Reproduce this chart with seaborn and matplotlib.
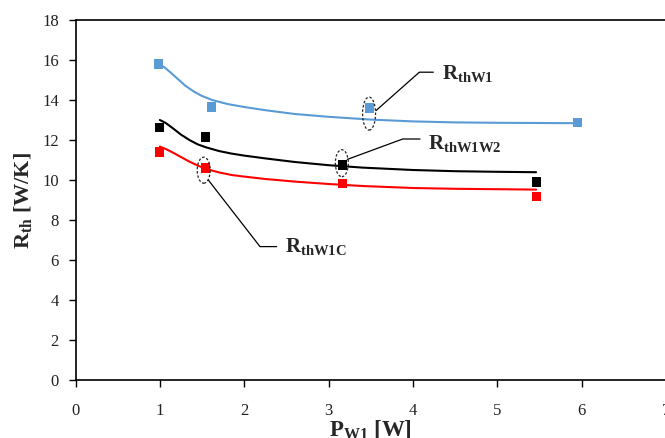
import numpy as np
import pandas as pd
import seaborn as sns
import matplotlib.pyplot as plt
from matplotlib.patches import Ellipse

# ---- data ----
blue_px = [0.98, 1.61, 3.48, 5.95]
blue_py = [15.8, 13.65, 13.6, 12.87]
black_px = [1.0, 1.54, 3.16, 5.46]
black_py = [12.63, 12.15, 10.75, 9.9]
red_px = [1.0, 1.54, 3.16, 5.46]
red_py = [11.4, 10.6, 9.83, 9.18]

blue_cx = [0.98, 1.05, 1.12, 1.2, 1.3, 1.4, 1.5, 1.62, 1.8, 2.0, 2.25, 2.6, 3.0, 3.5, 4.0, 4.5, 5.0, 5.5, 5.95]
blue_cy = [15.8, 15.65, 15.4, 15.1, 14.72, 14.43, 14.2, 14.0, 13.8, 13.65, 13.49, 13.3, 13.16, 13.02, 12.93, 12.88, 12.86, 12.85, 12.84]
black_cx = [1.0, 1.07, 1.15, 1.25, 1.35, 1.45, 1.55, 1.7, 1.85, 2.0, 2.25, 2.6, 3.0, 3.4, 4.0, 4.5, 5.0, 5.46]
black_cy = [13.0, 12.85, 12.6, 12.27, 12.0, 11.78, 11.63, 11.45, 11.32, 11.22, 11.08, 10.9, 10.74, 10.62, 10.5, 10.44, 10.41, 10.39]
red_cx = [1.0, 1.07, 1.15, 1.25, 1.35, 1.45, 1.55, 1.7, 1.85, 2.0, 2.25, 2.6, 3.0, 3.4, 4.0, 4.5, 5.0, 5.46]
red_cy = [11.67, 11.55, 11.38, 11.15, 10.92, 10.72, 10.55, 10.38, 10.25, 10.17, 10.05, 9.92, 9.8, 9.7, 9.6, 9.56, 9.54, 9.52]

x_ticks = [0, 1, 2, 3, 4, 5, 6, 7]
y_ticks = [0, 2, 4, 6, 8, 10, 12, 14, 16, 18]

BLUE = '#5B9BD5'
BLACK = '#000000'
RED = '#FF0000'

sns.set_theme(style='ticks')
plt.rcParams['font.family'] = ['Liberation Serif', 'DejaVu Serif']
plt.rcParams['mathtext.fontset'] = 'custom'
plt.rcParams['mathtext.rm'] = 'Liberation Serif:bold'
plt.rcParams['mathtext.bf'] = 'Liberation Serif:bold'
plt.rcParams['mathtext.it'] = 'Liberation Serif:bold'

fig = plt.figure(figsize=(6.65, 4.38), dpi=100)
ax = fig.add_axes([75.5 / 665, 58 / 438, 590.5 / 665, 360 / 438])

for cx, cy, c in [(blue_cx, blue_cy, BLUE), (black_cx, black_cy, BLACK), (red_cx, red_cy, RED)]:
    sns.lineplot(x=cx, y=cy, color=c, linewidth=1.5, sort=False, estimator=None, ax=ax, zorder=2)

for px, py, c in [(blue_px, blue_py, BLUE), (black_px, black_py, BLACK), (red_px, red_py, RED)]:
    sns.scatterplot(x=px, y=py, color=c, marker='s', s=42, edgecolor='none', linewidth=0, ax=ax, zorder=3)

ax.set_xlim(0, 7)
ax.set_ylim(0, 18)
ax.set_xticks(x_ticks)
ax.set_yticks(y_ticks)
ax.set_xticklabels([str(v) for v in x_ticks], fontsize=12, color='#222222')
ax.set_yticklabels([str(v) for v in y_ticks], fontsize=12, color='#222222')
ax.tick_params(axis='both', direction='out', length=5, width=1, colors='black')
ax.tick_params(axis='y', pad=7, labelcolor='#222222')
ax.tick_params(axis='x', pad=11.5, labelcolor='#222222')
for s in ax.spines.values():
    s.set_visible(True)
    s.set_color('black')
    s.set_linewidth(1.2)

ax.set_xlabel(r'$\mathbf{P_{W1}}$ [W]', fontsize=16.5, fontweight='bold')
ax.xaxis.set_label_coords(0.5, -0.106)
ax.set_ylabel(r'$\mathbf{R_{th}}$ [W/K]', fontsize=16, fontweight='bold', labelpad=6)

# callout ellipses and leader lines
for (ex, ey, h) in [(3.48, 13.32, 1.65), (3.157, 10.84, 1.35), (1.52, 10.49, 1.3)]:
    ax.add_patch(Ellipse((ex, ey), 0.154, h, fill=False, edgecolor='#222222',
                         linestyle=(0, (2, 1.5)), linewidth=0.9, zorder=4))

ax.plot([3.562, 4.076, 4.242], [13.47, 15.39, 15.39], color='black', linewidth=0.9)
ax.plot([3.222, 3.879, 4.084], [11.03, 12.05, 12.05], color='black', linewidth=0.9)
ax.plot([1.574, 2.187, 2.385], [10.0, 6.67, 6.67], color='black', linewidth=0.9)

ax.text(4.34, 15.33, r'$\mathbf{R_{thW1}}$', fontsize=15, va='center', ha='left')
ax.text(4.18, 11.85, r'$\mathbf{R_{thW1W2}}$', fontsize=15, va='center', ha='left')
ax.text(2.484, 6.67, r'$\mathbf{R_{thW1C}}$', fontsize=15, va='center', ha='left')

fig.savefig('out.png', dpi=100)
